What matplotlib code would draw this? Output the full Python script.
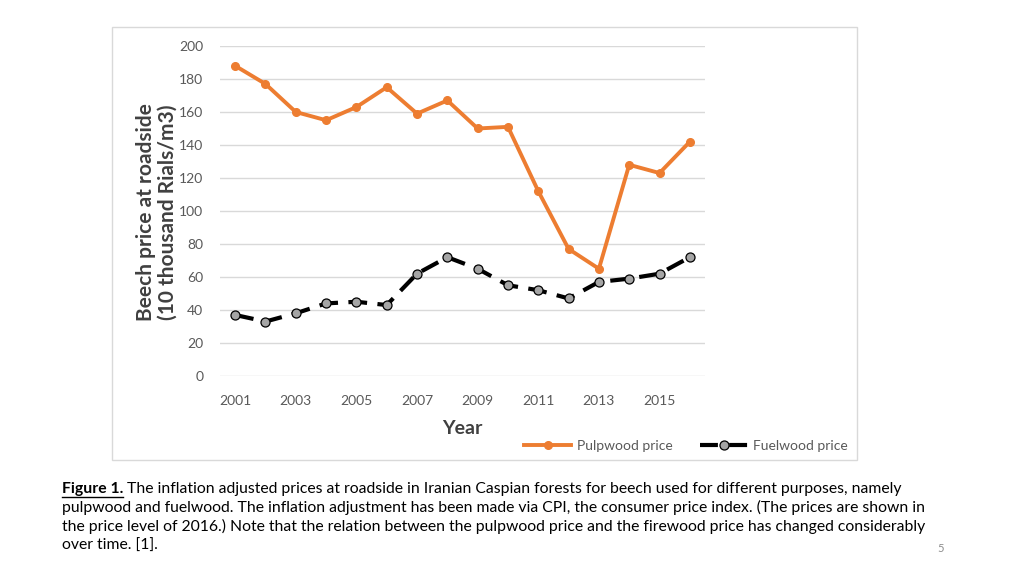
import matplotlib.pyplot as plt
import matplotlib.patches as patches
from matplotlib.lines import Line2D

# data
years = list(range(2001, 2017))
pulpwood = [188, 177, 160, 155, 163, 175, 159, 167, 150, 151, 112, 77, 65, 128, 123, 142]
fuelwood = [37, 33, 38, 44, 45, 43, 62, 72, 65, 55, 52, 47, 57, 59, 62, 72]
year_ticks = list(range(2001, 2016, 2))
price_ticks = list(range(0, 201, 20))

caption_head = "Figure 1."
caption_lines = [
    " The inflation adjusted prices at roadside in Iranian Caspian forests for beech used for different purposes, namely",
    "pulpwood and fuelwood. The inflation adjustment has been made via CPI, the consumer price index. (The prices are shown in",
    "the price level of 2016.) Note that the relation between the pulpwood price and the firewood price has changed considerably",
    "over time. [1].",
]

plt.rcParams['font.family'] = ['Lato', 'DejaVu Sans']

W, H = 1024, 576
fig = plt.figure(figsize=(10.24, 5.76), dpi=100)

# chart frame
fig.patches.append(patches.Rectangle((112 / W, 1 - 460 / H), (857 - 112) / W, (460 - 27) / H,
                                     transform=fig.transFigure, fill=False,
                                     edgecolor='#D9D9D9', lw=1.0))

ax = fig.add_axes([220 / W, 1 - 376 / H, (705 - 220) / W, (376 - 46) / H])

orange = '#ED7D31'
ax.plot(years, pulpwood, color=orange, lw=2.8, marker='o', markersize=5.5,
        label='Pulpwood price', zorder=3)
ax.plot(years, fuelwood, color='black', lw=3.0, dashes=(4.5, 2.5), marker='o',
        markersize=6.5, markerfacecolor='#A5A5A5', markeredgecolor='black',
        markeredgewidth=0.9, label='Fuelwood price', zorder=3)

ax.set_xlim(2000.5, 2016.5)
ax.set_ylim(0, 200)
ax.set_xticks(year_ticks)
ax.set_yticks(price_ticks)
ax.tick_params(length=0, labelsize=10, labelcolor='#595959')
ax.tick_params(axis='x', pad=14)
ax.tick_params(axis='y', pad=12)
ax.grid(axis='y', color='#D9D9D9', lw=1.0)
ax.set_axisbelow(True)
for s in ax.spines.values():
    s.set_visible(False)

fig.text(157 / W, 1 - 212 / H, "Beech price at roadside\n(10 thousand Rials/m3)",
         rotation=90, ha='center', va='center', fontsize=15, fontweight='bold',
         color='#404040', linespacing=1.1)
fig.text(462 / W, 1 - 428 / H, "Year", ha='center', va='center', fontsize=14,
         fontweight='bold', color='#404040')

handles = [
    Line2D([], [], color=orange, lw=2.8, marker='o', markersize=5.5),
    Line2D([], [], color='black', lw=3.0, dashes=(4.3, 2.7), marker='o', markersize=6.5,
           markerfacecolor='#A5A5A5', markeredgecolor='black', markeredgewidth=0.9),
]
fig.legend(handles, ['Pulpwood price', 'Fuelwood price'], loc='center',
           bbox_to_anchor=(686 / W, 1 - 446 / H), ncol=2, frameon=False,
           fontsize=10, labelcolor='#595959', handlelength=3.4, handletextpad=0.4,
           columnspacing=2.0)

# caption
cap_size = 11.3
y0 = 489
head = fig.text(62 / W, 1 - y0 / H, caption_head, fontsize=cap_size, fontweight='bold',
                ha='left', va='center', color='black')
fig.canvas.draw()
bb = head.get_window_extent()
fig.add_artist(Line2D([bb.x0 / W, bb.x1 / W], [(bb.y0 - 1) / H, (bb.y0 - 1) / H],
                      color='black', lw=1.0, transform=fig.transFigure))
fig.text(bb.x1 / W, 1 - y0 / H, caption_lines[0], fontsize=cap_size, ha='left',
         va='center', color='black')
for i, line in enumerate(caption_lines[1:]):
    fig.text(62 / W, 1 - (y0 + 18.8 * (i + 1)) / H, line, fontsize=cap_size,
             ha='left', va='center', color='black')

fig.text(941 / W, 1 - 549 / H, "5", fontsize=8, color='#8C8C8C', ha='center', va='center')

fig.savefig('out.png', dpi=100)
